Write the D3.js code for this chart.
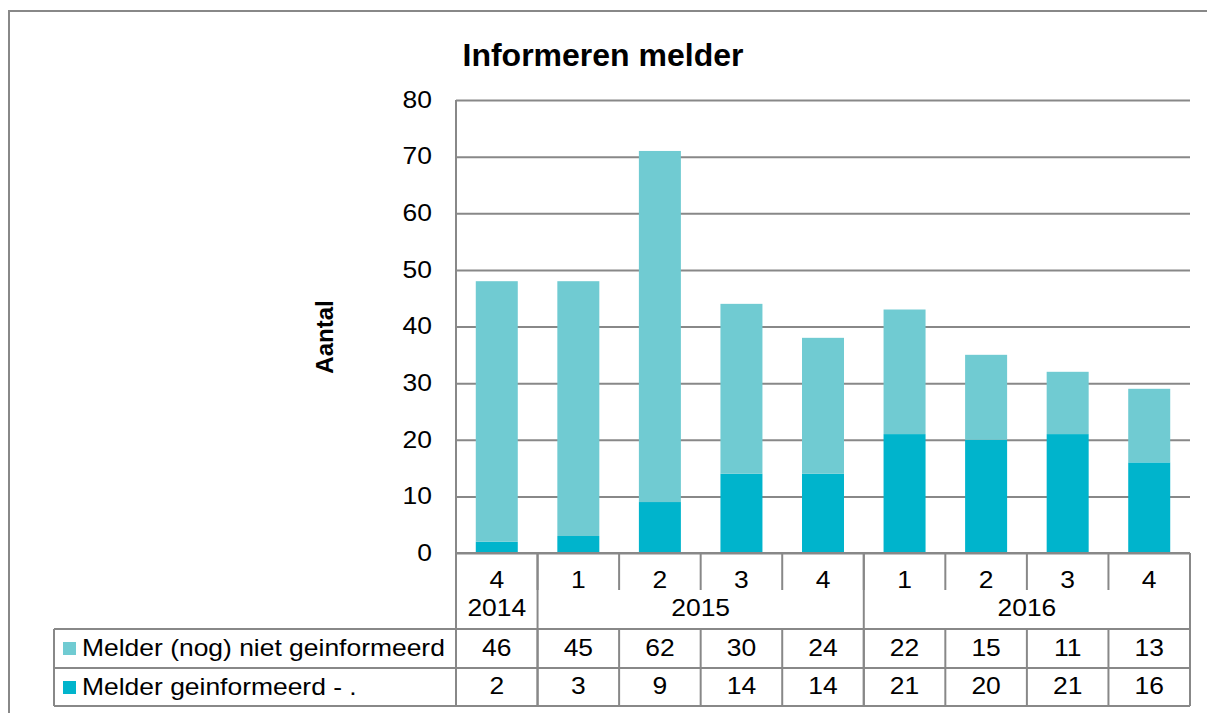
<!DOCTYPE html>
<html><head><meta charset="utf-8">
<script src="https://cdn.jsdelivr.net/npm/d3@7"></script>
<style>body{margin:0;background:#fff}svg{display:block;font-family:"Liberation Sans",Arial,sans-serif}</style>
</head><body><svg id="c" width="1207" height="713"></svg>
<script>
const quarters = ["4","1","2","3","4","1","2","3","4"];
const years = ["2014","2015","2016"];
const yearSpans = [1,4,4];
const seriesNames = ["Melder (nog) niet geinformeerd","Melder geinformeerd - ."];
const nietGeinformeerd = [46,45,62,30,24,22,15,11,13];
const geinformeerd = [2,3,9,14,14,21,20,21,16];
const yTicks = [0,10,20,30,40,50,60,70,80];
const colLight = "#70CBD2", colDark = "#00B4CC", grey = "#888888";

const svg = d3.select("#c");
const L = 456, R = 1190, T = 100, B = 553;
const tabL = 54, row1 = 629, row2 = 668, row3 = 706;
const fs = 23, sx = 1.15;

// outer border
svg.append("rect").attr("x",9).attr("y",11).attr("width",1300).attr("height",800)
  .attr("fill","none").attr("stroke",grey).attr("stroke-width",2);

const idx = d3.range(quarters.length);
const x = d3.scaleBand().domain(idx).range([L,R]).padding(0);
const y = d3.scaleLinear().domain([0,80]).range([B,T]);

// grid
const ga = svg.append("g").attr("transform",`translate(${L},0)`)
  .call(d3.axisLeft(y).tickValues(yTicks).tickSize(-(R-L)).tickPadding(24).tickFormat(d3.format("d")));
ga.select(".domain").remove();
ga.selectAll(".tick line").attr("stroke",grey).attr("stroke-width",2);
ga.selectAll(".tick text").attr("font-size",fs).attr("fill","#000").attr("font-family","Liberation Sans, Arial, sans-serif")
  .attr("x",null).attr("transform",`translate(-24,0) scale(${sx},1)`);

// bars
const bw = x.bandwidth()*0.515;
const stackData = idx.map(i => ({i, wel: geinformeerd[i], niet: nietGeinformeerd[i]}));
const stack = d3.stack().keys(["wel","niet"])(stackData);
const colors = {wel: colDark, niet: colLight};
svg.append("g").selectAll("g").data(stack).join("g").attr("fill",d=>colors[d.key])
  .selectAll("rect").data(d=>d).join("rect")
  .attr("x",d=>x(d.data.i)+(x.bandwidth()-bw)/2).attr("width",bw)
  .attr("y",d=>y(d[1])).attr("height",d=>y(d[0])-y(d[1]));

// axis lines
const ln = (x1,y1,x2,y2)=>svg.append("line").attr("x1",x1).attr("y1",y1).attr("x2",x2).attr("y2",y2)
  .attr("stroke",grey).attr("stroke-width",2);
ln(L,T,L,row3);
ln(L,B,R,B);
ln(R,B,R,row3);
// quarter separators
idx.slice(1).forEach(i=>ln(x(i),B,x(i),590));
// year boundaries
let acc=0;
yearSpans.forEach((s,k)=>{ acc+=s; if(k<yearSpans.length-1) ln(x(acc),B,x(acc),row3); });
// table rows
[row1,row2,row3].forEach(r=>ln(tabL,r,R,r));
ln(tabL,row1,tabL,row3);
idx.slice(1).forEach(i=>ln(x(i),row1,x(i),row3));

const txt = (t,xx,yy,anchor="middle")=>svg.append("text")
  .attr("transform",`translate(${xx},${yy}) scale(${sx},1)`)
  .attr("text-anchor",anchor).attr("font-size",fs).attr("fill","#000").text(t);
// quarter labels
idx.forEach(i=>txt(quarters[i], x(i)+x.bandwidth()/2, 588));
// year labels
acc=0;
years.forEach((yr,k)=>{ const x0=x(acc), x1=x(acc+yearSpans[k]-1)+x.bandwidth(); acc+=yearSpans[k];
  txt(yr,(x0+x1)/2,616); });
// values
idx.forEach(i=>{ txt(nietGeinformeerd[i], x(i)+x.bandwidth()/2, 656);
  txt(geinformeerd[i], x(i)+x.bandwidth()/2, 694); });
// legend in table
[[colLight,row1],[colDark,row2]].forEach(([c,r],k)=>{
  svg.append("rect").attr("x",63).attr("y",r+13).attr("width",13).attr("height",13).attr("fill",c);
  txt(seriesNames[k], 82, r+27, "start");
});

// title
svg.append("text").attr("x",603).attr("y",66).attr("text-anchor","middle")
  .attr("font-size",32).attr("font-weight","bold").text("Informeren melder");
// y label
svg.append("text").attr("transform","translate(333,337) rotate(-90)").attr("text-anchor","middle")
  .attr("font-size",24).attr("font-weight","bold").text("Aantal");
</script></body></html>
